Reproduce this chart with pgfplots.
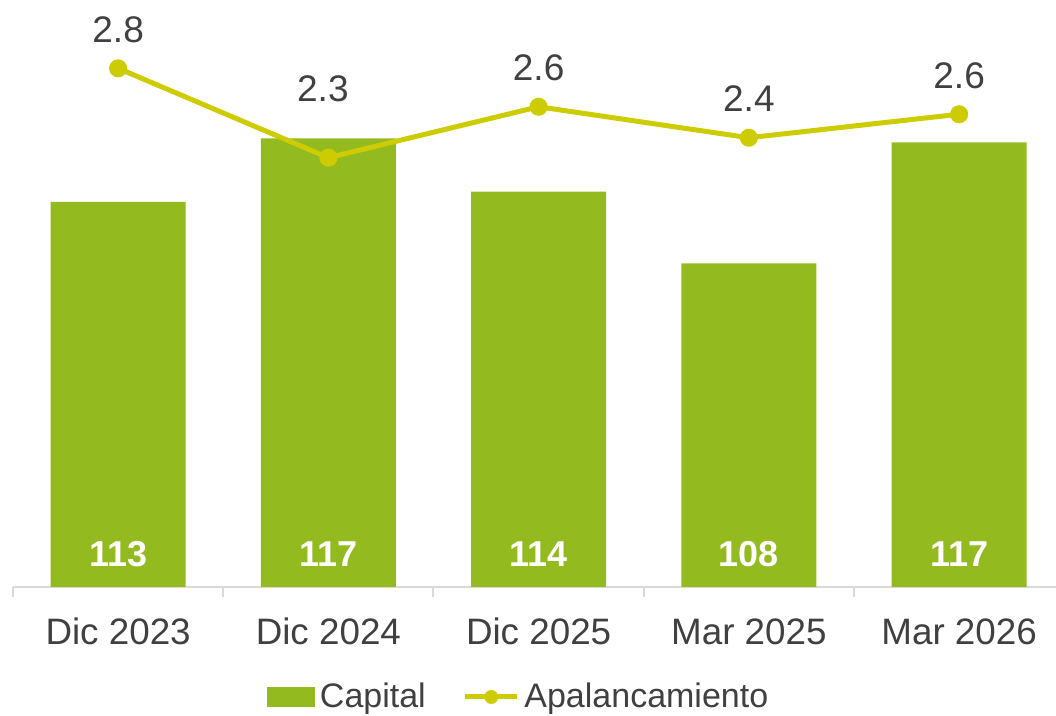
\documentclass[border=0pt]{standalone}
\usepackage{fontspec}
\setmainfont{Liberation Sans}
\usepackage{pgfplots}
\pgfplotsset{compat=1.18}
\usepackage{pgfplotstable}
\definecolor{barc}{HTML}{93BA1F}
\definecolor{linec}{HTML}{CCCC00}
\definecolor{txt}{HTML}{404040}
\definecolor{axc}{HTML}{D9D9D9}

\pgfplotstableread{
x cap lab b
0 112.80 113 85.3
1 117.35 117 85.3
2 113.54 114 85.3
3 108.42 108 85.3
4 117.06 117 85.3
}\capital

\pgfplotstableread{
x lev lab dy dx
0 2.800 2.8 13 0
1 2.298 2.3 28 -2.75
2 2.584 2.6 13 0
3 2.410 2.4 13 0
4 2.542 2.6 13 0
}\lev

\begin{document}
\begin{tikzpicture}
\begin{axis}[
  at={(6.5pt,64.5pt)}, anchor=south west,
  scale only axis, width=525.625pt, height=293.5pt,
  xmin=-0.5, xmax=4.5, ymin=85.3, ymax=127.23,
  axis x line*=bottom, axis y line=none,
  x axis line style={axc, line width=1pt, -},
  xtick={-0.5,0.5,1.5,2.5,3.5,4.5},
  x tick label as interval,
  xticklabels={Dic 2023,Dic 2024,Dic 2025,Mar 2025,Mar 2026},
  tick align=outside, major tick length=5pt,
  x tick style={axc, line width=1pt},
  xticklabel style={font=\fontsize{18.4pt}{22pt}\selectfont, text=txt, anchor=base, yshift=-24pt, inner sep=0pt},
  legend style={draw=none, fill=none, at={(0.2416,-0.1874)}, anchor=west, inner sep=0pt,
    font=\fontsize{17pt}{20pt}\selectfont, text=txt, legend columns=-1,
    /tikz/every odd column/.append style={column sep=0.3pt},
    /tikz/every even column/.append style={column sep=16.5pt}},
  legend cell align=left,
]
\addplot[ybar, bar shift=0pt, bar width=67.5pt, fill=barc, draw=none,
  legend image code/.code={\fill[barc] (0pt,-5pt) rectangle (24pt,5pt);}]
  table[x=x, y=cap] {\capital};
\addlegendentry{Capital}
\addlegendimage{legend image code/.code={\draw[linec, line width=2.5pt] (0pt,0pt) -- (26pt,0pt); \fill[linec] (13pt,0pt) circle (3.25pt);}}
\addlegendentry{Apalancamiento}
\addplot[draw=none, mark=none, forget plot, nodes near coords, point meta=explicit symbolic,
  nodes near coords style={anchor=base, yshift=10pt, inner sep=0pt, font=\bfseries\fontsize{18pt}{21pt}\selectfont, text=white}]
  table[x=x, y=b, meta=lab] {\capital};
\end{axis}
\begin{axis}[
  at={(6.5pt,64.5pt)}, anchor=south west,
  scale only axis, width=525.625pt, height=293.5pt,
  xmin=-0.5, xmax=4.5, ymin=-0.114, ymax=3.184,
  hide axis, clip=false,
]
\addplot[linec, line width=2.5pt, mark=*, mark size=3.25pt, mark options={draw=none, fill=linec},
  nodes near coords, point meta=explicit symbolic,
  visualization depends on={\thisrow{dy} \as \dy},
  visualization depends on={\thisrow{dx} \as \dx},
  nodes near coords style={anchor=base, yshift=\dy, xshift=\dx, inner sep=0pt, font=\fontsize{18.5pt}{22pt}\selectfont, text=txt}]
  table[x=x, y=lev, meta=lab] {\lev};
\end{axis}
\pgfresetboundingbox
\useasboundingbox (0,0) rectangle (528pt,358pt);
\end{tikzpicture}
\end{document}
